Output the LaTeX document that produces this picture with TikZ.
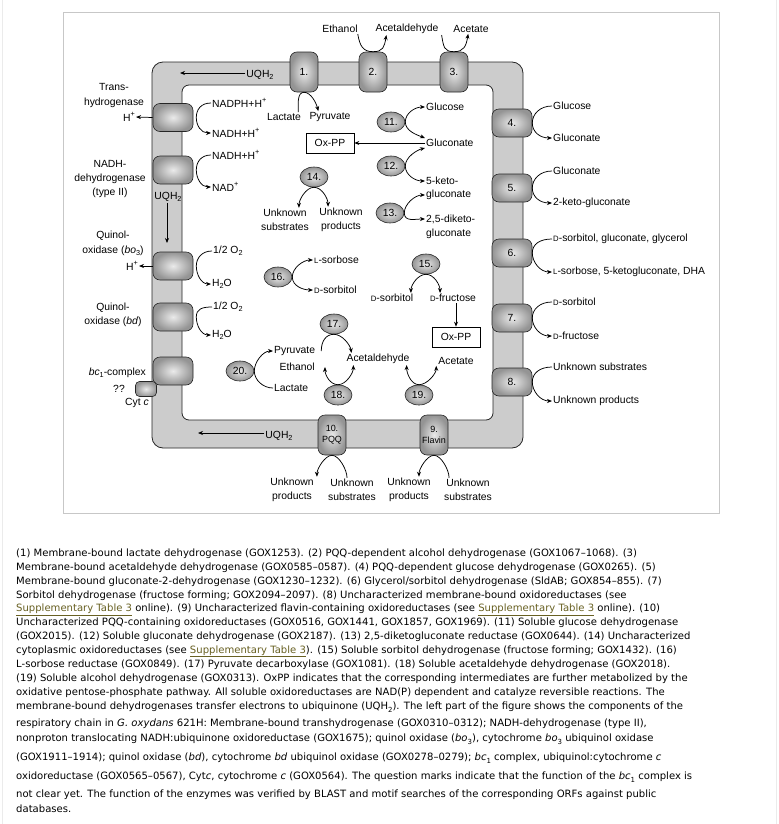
\documentclass[tikz,border=0pt]{standalone}
\usepackage{fontspec}
\setmainfont{Liberation Sans}
\newfontfamily\capfont[Ligatures=TeX]{DejaVu Sans}
\usetikzlibrary{shapes.geometric,arrows.meta}
\newcommand{\lowi}[1]{\raisebox{-0.35ex}{\fontsize{7.3}{7}\selectfont #1}}
\newcommand{\supr}[1]{\raisebox{0.8ex}{\fontsize{7.3}{7}\selectfont #1}}
\newcommand{\lett}[1]{{\fontsize{7.8}{8}\selectfont #1}}
\newcommand{\capsub}[1]{\raisebox{-3.5bp}{\fontsize{7}{7}\selectfont #1}}
\definecolor{linkcol}{RGB}{104,96,34}
\newcommand{\suppl}{\textcolor{linkcol}{\underline{Supplementary Table 3}}}
\tikzset{
  enzbox/.style={draw=black!85, line width=0.6pt, rounded corners=7bp, inner color=black!8,
    outer color=black!42, inner sep=0pt, font=\fontsize{10.4}{12}\selectfont},
  hbox/.style={enzbox, minimum width=40bp, minimum height=28bp},
  vbox/.style={enzbox, minimum width=28bp, minimum height=40bp},
  enzell/.style={ellipse, draw=black!85, line width=0.6pt, inner color=black!8, outer color=black!42,
    minimum width=28bp, minimum height=20bp, inner sep=0pt, font=\fontsize{10.4}{12}\selectfont},
  lbl/.style={inner sep=1bp, font=\fontsize{10.4}{14.5}\selectfont},
  rxn/.style={line width=0.75pt, -{Stealth[length=5bp,width=4bp]}},
  rxnb/.style={line width=0.75pt, {Stealth[length=5bp,width=4bp]}-{Stealth[length=5bp,width=4bp]}},
  oxpp/.style={draw, line width=0.6pt, minimum width=48bp, minimum height=20bp, inner sep=0pt,
    font=\fontsize{10.4}{12}\selectfont},
  capline/.style={anchor=base west, inner sep=0pt, font=\capfont\fontsize{10.1}{12}\selectfont}
}
\begin{document}
\begin{tikzpicture}[x=1bp,y=-1bp]
\useasboundingbox (0,0) rectangle (779,824);
\fill[white] (0,0) rectangle (779,824);
\draw[black!8, line width=1bp] (2,0) -- (2,824) (776,0) -- (776,824);
\draw[black!22] (63,12) rectangle (719,513);

% --- membrane ---
\path[draw=black!85, line width=0.8pt, fill=black!20, even odd rule]
  [rounded corners=11bp] (152,62) rectangle (523,448)
  [rounded corners=7bp] (182,85) rectangle (493,420);

% --- membrane-bound enzymes ---
\node[vbox] (e1) at (304,72) {1.};
\node[vbox] (e2) at (373,72) {2.};
\node[vbox] (e3) at (454,72) {3.};
\foreach \n/\y in {4/123,5/188,6/253,7/318,8/382}
  \node[hbox] (e\n) at (512,\y) {\n.};
\node[vbox, align=center, font=\fontsize{9}{11}\selectfont] (e10) at (332,435) {10.\\PQQ};
\node[vbox, align=center, font=\fontsize{9}{11}\selectfont] (e9) at (434,435) {9.\\Flavin};
\node[hbox] (th) at (173,117.5) {};
\node[hbox] (ndh) at (173,170) {};
\node[hbox] (bo) at (173,266) {};
\node[hbox] (bd) at (173,317) {};
\node[hbox] (bc) at (173,371) {};
\node[enzbox, rounded corners=4bp, minimum width=21bp, minimum height=15bp] (cyt) at (146,389) {};

% --- top: 1, 2, 3 ---
\node[lbl] (eth) at (340,29) {Ethanol};
\node[lbl] (ald) at (407,29) {Acetaldehyde};
\node[lbl] (ace) at (471,29) {Acetate};
\draw[rxn] ([xshift=-1]eth.south east) .. controls +(2,12) and +(-10,0) .. (e2.north)
  .. controls +(10,0) and +(-2,12) .. ([xshift=12]ald.south west);
\draw[rxn] ([xshift=2]ald.south east) .. controls +(2,12) and +(-10,0) .. (e3.north)
  .. controls +(10,0) and +(-2,12) .. ([xshift=16]ace.south west);
\node[lbl] (lac1) at (284,117) {Lactate};
\node[lbl] (pyr1) at (330,117) {Pyruvate};
\draw[rxn] ([xshift=-4]lac1.north east) .. controls +(0,-8) and +(-7,0) .. (e1.south)
  .. controls +(7,0) and +(-2,-8) .. ([xshift=10]pyr1.north west);
\node[lbl] (uq1) at (260,75) {UQH\lowi{2}};
\coordinate (uq1end) at (180,73);
\draw[rxn] (uq1.west |- uq1end) -- (uq1end);

% --- respiratory chain (left) ---
\node[lbl, align=center] (thl) at (114,95.5) {Trans-\\hydrogenase};
\node[lbl, anchor=east] (hp1) at (136,117) {H\supr{+}};
\draw[rxn] (th.west) -- (hp1.east);
\node[lbl, anchor=west] (nadph) at (211,103) {NADPH+H\supr{+}};
\node[lbl, anchor=west] (nadh1) at (211,133) {NADH+H\supr{+}};
\draw[rxn] (nadph.west) .. controls +(-10,0) and +(0,-8) .. ([xshift=3]th.east)
  .. controls +(0,8) and +(-10,0) .. (nadh1.west);

\node[lbl, align=center] (ndhl) at (110,179) {NADH-\\dehydrogenase\\(type II)};
\node[lbl, anchor=west] (nadh2) at (211,155) {NADH+H\supr{+}};
\node[lbl, anchor=west] (nad) at (211,187) {NAD\supr{+}};
\draw[rxn] (nadh2.west) .. controls +(-10,0) and +(0,-8) .. ([xshift=3]ndh.east)
  .. controls +(0,8) and +(-10,0) .. (nad.west);

\node[lbl] (uq2) at (168,197) {UQH\lowi{2}};
\coordinate (uq2end) at (167,243);
\draw[rxn] (uq2.south -| uq2end) -- (uq2end);

\node[lbl, align=center] (bol) at (113,243.5) {Quinol-\\oxidase (\textit{bo}\lowi{3})};
\node[lbl, anchor=east] (hp2) at (139,266) {H\supr{+}};
\draw[rxn] (bo.west) -- (hp2.east);
\node[lbl, anchor=west] (o2a) at (212,251) {1/2 O\lowi{2}};
\node[lbl, anchor=west] (h2oa) at (211,284) {H\lowi{2}O};
\draw[rxn] (o2a.west) .. controls +(-10,0) and +(0,-8) .. ([xshift=3]bo.east)
  .. controls +(0,8) and +(-10,0) .. (h2oa.west);

\node[lbl, align=center] (bdl) at (113,315) {Quinol-\\oxidase (\textit{bd})};
\node[lbl, anchor=west] (o2b) at (212,307) {1/2 O\lowi{2}};
\node[lbl, anchor=west] (h2ob) at (211,335) {H\lowi{2}O};
\draw[rxn] (o2b.west) .. controls +(-10,0) and +(0,-8) .. ([xshift=3]bd.east)
  .. controls +(0,8) and +(-10,0) .. (h2ob.west);

\node[lbl, anchor=east] (bcl) at (147,373) {\textit{bc}\lowi{1}-complex};
\node[lbl] (qq) at (119,389) {??};
\node[lbl, anchor=east] (cytl) at (150,403) {Cyt \textit{c}};

% --- right side: 4 to 8 ---
\node[lbl, anchor=west] (s4) at (552,106) {Glucose};
\node[lbl, anchor=west] (p4) at (552,138) {Gluconate};
\node[lbl, anchor=west] (s5) at (552,171) {Gluconate};
\node[lbl, anchor=west] (p5) at (552,203) {2-keto-gluconate};
\node[lbl, anchor=west] (s6) at (552,239) {\lett{D}-sorbitol, gluconate, glycerol};
\node[lbl, anchor=west] (p6) at (552,272) {\lett{L}-sorbose, 5-ketogluconate, DHA};
\node[lbl, anchor=west] (s7) at (552,302) {\lett{D}-sorbitol};
\node[lbl, anchor=west] (p7) at (552,336) {\lett{D}-fructose};
\node[lbl, anchor=west] (s8) at (552,367) {Unknown substrates};
\node[lbl, anchor=west] (p8) at (552,401) {Unknown products};
\foreach \n in {4,...,8}
  \draw[rxn] (s\n.west) .. controls +(-12,0) and +(0,-9) .. (e\n.east)
    .. controls +(0,9) and +(-12,0) .. (p\n.west);

% --- cytoplasm ---
\node[enzell] (n11) at (391,122) {11.};
\node[lbl, anchor=west] (glc) at (425,107) {Glucose};
\node[lbl, anchor=west] (gcn) at (425,143) {Gluconate};
\draw[rxnb] (glc.west) .. controls +(-10,0) and +(0,-9) .. (n11.east)
  .. controls +(0,9) and +(-8,-3) .. (gcn.north west);
\node[oxpp] (ox1) at (330,143) {Ox-PP};
\draw[rxn] (gcn.west) -- (ox1.east);

\node[enzell] (n12) at (391,166) {12.};
\node[lbl, anchor=west] (kg1) at (425,181) {5-keto-};
\node[lbl, anchor=west] (kg2) at (425,195) {gluconate};
\draw[rxnb] (gcn.south west) .. controls +(-8,2) and +(0,-9) .. (n12.east)
  .. controls +(0,9) and +(-10,0) .. (kg1.west);

\node[enzell] (n13) at (390,213) {13.};
\node[lbl, anchor=west] (dk1) at (425,219) {2,5-diketo-};
\node[lbl, anchor=west] (dk2) at (425,234) {gluconate};
\draw[rxnb] (kg2.west) .. controls +(-10,0) and +(0,-9) .. (n13.east)
  .. controls +(0,9) and +(-10,0) .. (dk1.west);

\node[enzell] (n14) at (314,177) {14.};
\node[lbl, align=center] (us14) at (285,220) {Unknown\\substrates};
\node[lbl, align=center] (up14) at (341,220) {Unknown\\products};
\draw[rxnb] ([xshift=14]us14.north) .. controls +(0,-8) and +(-8,0) .. (n14.south)
  .. controls +(8,0) and +(0,-8) .. ([xshift=-13]up14.north);

\node[enzell] (n16) at (278,277) {16.};
\node[lbl, anchor=west] (lsb) at (313,260) {\lett{L}-sorbose};
\node[lbl, anchor=west] (dsb1) at (313,290) {\lett{D}-sorbitol};
\draw[rxnb] (lsb.west) .. controls +(-10,0) and +(0,-9) .. (n16.east)
  .. controls +(0,9) and +(-10,0) .. (dsb1.west);

\node[enzell] (n15) at (426,264) {15.};
\node[lbl] (dsb2) at (392,298) {\lett{D}-sorbitol};
\node[lbl] (dfr) at (453,298) {\lett{D}-fructose};
\draw[rxnb] ([xshift=19]dsb2.north) .. controls +(0,-8) and +(-8,0) .. (n15.south)
  .. controls +(8,0) and +(0,-8) .. ([xshift=-13]dfr.north);
\node[oxpp] (ox2) at (456,337) {Ox-PP};
\draw[rxn] (dfr.south -| ox2.north) -- (ox2.north);

\node[enzell] (n17) at (334,324) {17.};
\node[lbl] (acd) at (378,359) {Acetaldehyde};
\node[lbl] (act) at (456,361) {Acetate};
\node[lbl, anchor=west] (pyr) at (273,351) {Pyruvate};
\node[lbl, anchor=east] (eth2) at (316,367) {Ethanol};
\node[lbl, anchor=west] (lac) at (273,388) {Lactate};
\draw[rxn] ([xshift=5]pyr.east) .. controls +(0,-10) and +(-8,0) .. (n17.south)
  .. controls +(8,0) and +(-1,-8) .. ([xshift=6]acd.north west);

\node[enzell] (n18) at (338,395) {18.};
\draw[rxnb] ([xshift=9]eth2.east) .. controls +(0,8) and +(-8,0) .. (n18.north)
  .. controls +(8,0) and +(0,8) .. ([xshift=8]acd.south west);

\node[enzell] (n19) at (419,395) {19.};
\draw[rxnb] ([xshift=-4]acd.south east) .. controls +(0,8) and +(-8,0) .. (n19.north)
  .. controls +(8,0) and +(0,8) .. ([xshift=-1]act.south west);

\node[enzell] (n20) at (240,371) {20.};
\draw[rxn] (lac.west) .. controls +(-10,0) and +(0,9) .. (n20.east)
  .. controls +(0,-9) and +(-10,0) .. (pyr.west);

% --- bottom: 10 and 9 ---
\node[lbl] (uq3) at (279,436) {UQH\lowi{2}};
\coordinate (uq3end) at (198,433);
\draw[rxn] (uq3.west |- uq3end) -- (uq3end);
\node[lbl, align=center] (up10) at (292,490) {Unknown\\products};
\node[lbl, align=center] (us10) at (352,490) {Unknown\\substrates};
\node[lbl, align=center] (up9) at (409,490) {Unknown\\products};
\node[lbl, align=center] (us9) at (468,490) {Unknown\\substrates};
\draw[rxn] ([xshift=-5]us10.north) .. controls +(0,-8) and +(7,0) .. (e10.south)
  .. controls +(-7,0) and +(0,-8) .. ([xshift=25]up10.north);
\draw[rxn] ([xshift=-19]us9.north) .. controls +(0,-8) and +(7,0) .. (e9.south)
  .. controls +(-7,0) and +(0,-8) .. ([xshift=10]up9.north);

% --- legend text ---
\node[capline] (c1) at (16,556) {(1) Membrane-bound lactate dehydrogenase (GOX1253). (2) PQQ-dependent alcohol dehydrogenase (GOX1067--1068). (3)};
\node[capline] (c2) at (16,570) {Membrane-bound acetaldehyde dehydrogenase (GOX0585--0587). (4) PQQ-dependent glucose dehydrogenase (GOX0265). (5)};
\node[capline] (c3) at (16,584) {Membrane-bound gluconate-2-dehydrogenase (GOX1230--1232). (6) Glycerol/sorbitol dehydrogenase (SldAB; GOX854--855). (7)};
\node[capline] (c4) at (16,598) {Sorbitol dehydrogenase (fructose forming; GOX2094--2097). (8) Uncharacterized membrane-bound oxidoreductases (see};
\node[capline] (c5) at (16,611.5) {\suppl{} online). (9) Uncharacterized flavin-containing oxidoreductases (see \suppl{} online). (10)};
\node[capline] (c6) at (16,625) {Uncharacterized PQQ-containing oxidoreductases (GOX0516, GOX1441, GOX1857, GOX1969). (11) Soluble glucose dehydrogenase};
\node[capline] (c7) at (16,639) {(GOX2015). (12) Soluble gluconate dehydrogenase (GOX2187). (13) 2,5-diketogluconate reductase (GOX0644). (14) Uncharacterized};
\node[capline] (c8) at (16,653) {cytoplasmic oxidoreductases (see \suppl). (15) Soluble sorbitol dehydrogenase (fructose forming; GOX1432). (16)};
\node[capline] (c9) at (16,667) {L-sorbose reductase (GOX0849). (17) Pyruvate decarboxylase (GOX1081). (18) Soluble acetaldehyde dehydrogenase (GOX2018).};
\node[capline] (c10) at (16,681) {(19) Soluble alcohol dehydrogenase (GOX0313). OxPP indicates that the corresponding intermediates are further metabolized by the};
\node[capline] (c11) at (16,695) {oxidative pentose-phosphate pathway. All soluble oxidoreductases are NAD(P) dependent and catalyze reversible reactions. The};
\node[capline] (c12) at (16,709) {membrane-bound dehydrogenases transfer electrons to ubiquinone (UQH\capsub{2}). The left part of the figure shows the components of the};
\node[capline] (c13) at (16,726) {respiratory chain in \textit{G. oxydans} 621H: Membrane-bound transhydrogenase (GOX0310--0312); NADH-dehydrogenase (type II),};
\node[capline] (c14) at (16,741) {nonproton translocating NADH:ubiquinone oxidoreductase (GOX1675); quinol oxidase (\textit{bo}\capsub{3}), cytochrome \textit{bo}\capsub{3} ubiquinol oxidase};
\node[capline] (c15) at (16,760) {(GOX1911--1914); quinol oxidase (\textit{bd}), cytochrome \textit{bd} ubiquinol oxidase (GOX0278--0279); \textit{bc}\capsub{1} complex, ubiquinol:cytochrome \textit{c}};
\node[capline] (c16) at (16,779) {oxidoreductase (GOX0565--0567), Cyt\textit{c}, cytochrome \textit{c} (GOX0564). The question marks indicate that the function of the \textit{bc}\capsub{1} complex is};
\node[capline] (c17) at (16,797) {not clear yet. The function of the enzymes was verified by BLAST and motif searches of the corresponding ORFs against public};
\node[capline] (c18) at (16,812) {databases.};
\end{tikzpicture}
\end{document}
